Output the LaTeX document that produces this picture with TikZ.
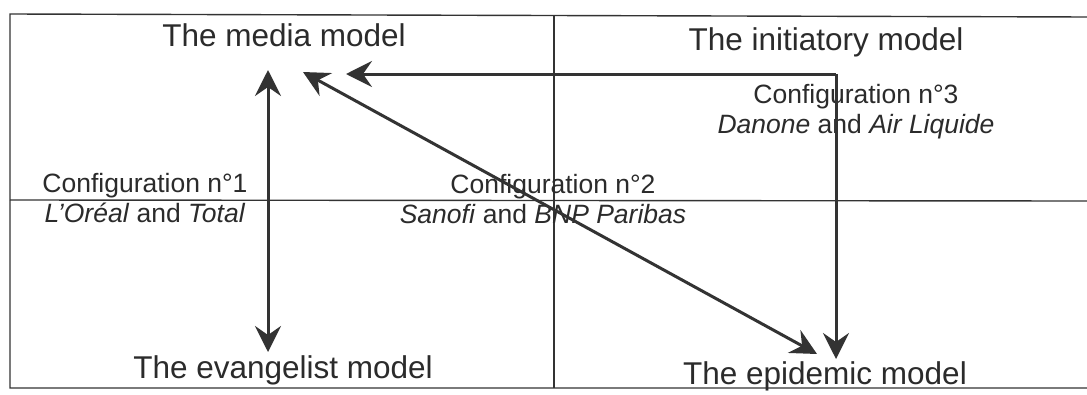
\documentclass[tikz,border=0pt]{standalone}
\usepackage{fontspec}
\setmainfont{Liberation Sans}
\usetikzlibrary{arrows.meta}
\definecolor{ink}{HTML}{333333}
\definecolor{txt}{HTML}{2B2B2B}
\begin{document}
\begin{tikzpicture}[x=1pt,y=-1pt,
  frame/.style={draw=ink,line width=1.4pt},
  tip/.style={},
  flow/.style={draw=ink,line width=3pt,-{Stealth[length=26pt,width=26pt,inset=9pt]}},
  dflow/.style={draw=ink,line width=3pt,{Stealth[length=26pt,width=26pt,inset=9pt]}-{Stealth[length=26pt,width=26pt,inset=9pt]}},
  title/.style={text=txt,font=\fontsize{31.5}{36}\selectfont,inner sep=0pt},
  conf/.style={text=txt,font=\fontsize{26.5}{29}\selectfont,inner sep=0pt,align=center}]
\useasboundingbox (0,0) rectangle (1087,394);
\fill[white] (0,0) rectangle (1087,394);
% frame and dividers
\draw[frame] (1090,17) -- (10,14) -- (10,388) -- (1090,388);
\draw[frame] (554,15) -- (554,388);
\draw[frame] (10,200) -- (1090,201);
% titles
\node[title] (media) at (284,35) {The media model};
\node[title] (init) at (826,42) {The initiatory model};
\node[title] (evan) at (283,370) {The evangelist model};
\node[title] (epid) at (825,376) {The epidemic model};
% configurations
\node[conf] (c1) at (145,198) {Configuration n°1\\[1pt]\textit{L'Oréal} and \textit{Total}};
\node[conf] (c2) at (543,199) {\hspace*{20pt}Configuration n°2\\[1pt]\textit{Sanofi} and \textit{BNP Paribas}};
\node[conf] (c3) at (856,112) {Configuration n°3\\[1pt]\textit{Danone} and \textit{Air Liquide}};
% arrow end points
\coordinate (vt) at (268,70);
\coordinate (vb) at (268,352);
\coordinate (dt) at (303,72);
\coordinate (db) at (817,354);
\coordinate (corner) at (836,74);
\coordinate (ht) at (346,72);
\coordinate (eb) at (836,359);
% arrows
\draw[dflow] (vt) -- (vb);
\draw[dflow] (dt) -- (db);
\draw[flow] (eb |- corner) -- (ht |- corner);
\draw[flow] (corner) -- (eb);
\end{tikzpicture}
\end{document}
